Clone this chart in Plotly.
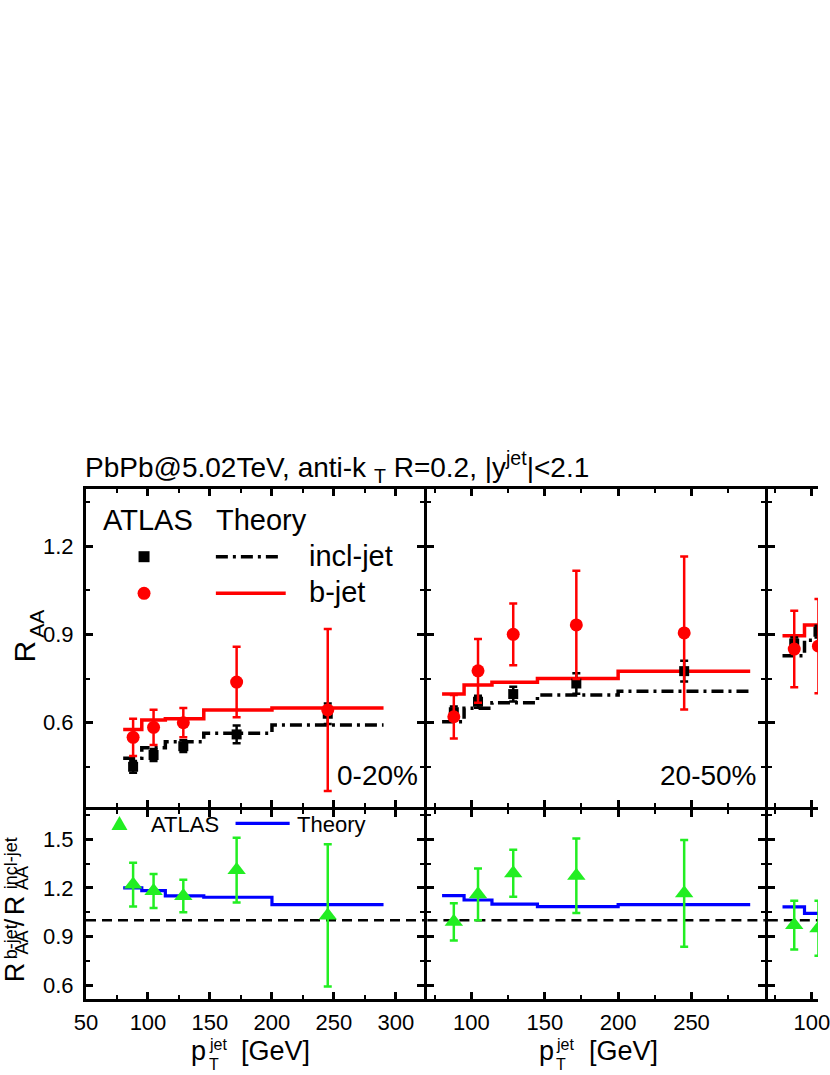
import plotly.graph_objects as go

FONT = "Liberation Sans, Arial, Helvetica, sans-serif"

# ---------------- data ----------------
bin_edges = [80, 95, 114, 145, 200, 290]
pt_atlas = [88, 104.5, 128.5, 171.5, 245]

# 0-20%
c1_incl_atlas = [0.45, 0.49, 0.52, 0.56, 0.63]
c1_incl_atlas_err = [0.02, 0.02, 0.02, 0.03, 0.035]
c1_b_atlas = [0.55, 0.584, 0.60, 0.738, 0.643]
c1_b_atlas_err = [0.063, 0.06, 0.05, 0.12, 0.275]
c1_incl_theory = [0.479, 0.515, 0.535, 0.564, 0.592]
c1_b_theory = [0.577, 0.609, 0.613, 0.643, 0.65]
c1_ratio_atlas = [1.22, 1.18, 1.15, 1.31, 1.03]
c1_ratio_atlas_err = [0.135, 0.105, 0.10, 0.20, 0.44]
c1_ratio_theory = [1.20, 1.183, 1.15, 1.142, 1.097]

# 20-50%
c2_incl_atlas = [0.635, 0.671, 0.697, 0.733, 0.775]
c2_incl_atlas_err = [0.02, 0.02, 0.025, 0.035, 0.035]
c2_b_atlas = [0.62, 0.776, 0.90, 0.932, 0.905]
c2_b_atlas_err = [0.074, 0.108, 0.105, 0.184, 0.26]
c2_incl_theory = [0.603, 0.649, 0.668, 0.694, 0.707]
c2_b_theory = [0.697, 0.728, 0.737, 0.75, 0.775]
c2_ratio_atlas = [0.99, 1.16, 1.29, 1.275, 1.166]
c2_ratio_atlas_err = [0.115, 0.16, 0.145, 0.23, 0.33]
c2_ratio_theory = [1.152, 1.125, 1.10, 1.084, 1.096]

# third centrality panel (only first bins visible)
c3_bin_edges = [80, 95, 114]
c3_pt_atlas = [88, 104.5]
c3_incl_atlas = [0.869, 0.909]
c3_incl_atlas_err = [0.02, 0.02]
c3_b_atlas = [0.85, 0.86]
c3_b_atlas_err = [0.13, 0.16]
c3_incl_theory = [0.827, 0.88]
c3_b_theory = [0.895, 0.932]
c3_ratio_atlas = [0.97, 0.95]
c3_ratio_atlas_err = [0.15, 0.17]
c3_ratio_theory = [1.083, 1.043]

centrality_labels = ["0-20%", "20-50%"]

# ---------------- layout geometry ----------------
FW, FH = 830, 1075
ML, MR, MT, MB = 86, 0, 489, 76
PW = FW - ML - MR
PH = FH - MT - MB


def px2x(px):
    return (px - ML) / PW


def py2y(py):
    return (FH - MB - py) / PH


xdom = [[0, px2x(430)], [px2x(433), px2x(776)], [px2x(779), 1.0]]
ydom_top = [py2y(806.5), 1.0]
ydom_low = [0.0, py2y(809.5)]
xranges = [[50, 323], [70, 300], [70, 104.2]]
yrange_top = [0.315, 1.394]
yrange_low = [0.5135, 1.684]

RED = "#FF0000"
GREEN = "#22EE22"
BLUE = "#0000FF"
DASHDOT = "12px,5px,3px,5px"

fig = go.Figure()


def step(edges, vals):
    return list(edges), list(vals) + [vals[-1]]


def add_top(xa, ya, edges, pts, incl, incl_err, bval, b_err, incl_th, b_th):
    sx, sy = step(edges, incl_th)
    fig.add_trace(go.Scatter(x=sx, y=sy, mode="lines", line_shape="hv",
                             line=dict(color="black", width=3.5, dash=DASHDOT),
                             xaxis=xa, yaxis=ya, hoverinfo="skip"))
    sx, sy = step(edges, b_th)
    fig.add_trace(go.Scatter(x=sx, y=sy, mode="lines", line_shape="hv",
                             line=dict(color=RED, width=3.5),
                             xaxis=xa, yaxis=ya, hoverinfo="skip"))
    fig.add_trace(go.Scatter(x=pts, y=incl, mode="markers",
                             marker=dict(symbol="square", size=10, color="black"),
                             error_y=dict(type="data", array=incl_err, color="black",
                                          thickness=2.5, width=4),
                             xaxis=xa, yaxis=ya))
    fig.add_trace(go.Scatter(x=pts, y=bval, mode="markers",
                             marker=dict(symbol="circle", size=13, color=RED),
                             error_y=dict(type="data", array=b_err, color=RED,
                                          thickness=2.5, width=4),
                             xaxis=xa, yaxis=ya))


def add_low(xa, ya, edges, pts, ratio, ratio_err, ratio_th):
    sx, sy = step(edges, ratio_th)
    fig.add_trace(go.Scatter(x=sx, y=sy, mode="lines", line_shape="hv",
                             line=dict(color=BLUE, width=3.2),
                             xaxis=xa, yaxis=ya, hoverinfo="skip"))
    fig.add_trace(go.Scatter(x=pts, y=ratio, mode="markers",
                             marker=dict(symbol="triangle-up", size=16, color=GREEN),
                             error_y=dict(type="data", array=ratio_err, color=GREEN,
                                          thickness=2.5, width=4),
                             xaxis=xa, yaxis=ya))


add_top("x", "y", bin_edges, pt_atlas, c1_incl_atlas, c1_incl_atlas_err,
        c1_b_atlas, c1_b_atlas_err, c1_incl_theory, c1_b_theory)
add_top("x2", "y2", bin_edges, pt_atlas, c2_incl_atlas, c2_incl_atlas_err,
        c2_b_atlas, c2_b_atlas_err, c2_incl_theory, c2_b_theory)
add_top("x3", "y3", c3_bin_edges, c3_pt_atlas, c3_incl_atlas, c3_incl_atlas_err,
        c3_b_atlas, c3_b_atlas_err, c3_incl_theory, c3_b_theory)
add_low("x4", "y4", bin_edges, pt_atlas, c1_ratio_atlas, c1_ratio_atlas_err, c1_ratio_theory)
add_low("x5", "y5", bin_edges, pt_atlas, c2_ratio_atlas, c2_ratio_atlas_err, c2_ratio_theory)
add_low("x6", "y6", c3_bin_edges, c3_pt_atlas, c3_ratio_atlas, c3_ratio_atlas_err, c3_ratio_theory)

# ---------------- axes ----------------
xticks = [[50, 100, 150, 200, 250, 300], [100, 150, 200, 250], [100]]
xminor = [[75, 125, 175, 225, 275], [75, 125, 175, 225, 275], [75]]
ytick_top = [0.6, 0.9, 1.2]
yminor_top = [0.45, 0.75, 1.05, 1.35]
ytick_low = [0.6, 0.9, 1.2, 1.5]
yminor_low = [0.75, 1.05, 1.35, 1.65]


def base_axis():
    return dict(showline=True, linewidth=3, linecolor="black", ticks="inside",
                ticklen=7, tickwidth=2.5, tickcolor="black", showgrid=False,
                zeroline=False, fixedrange=True, tickmode="array",
                tickfont=dict(size=22, family=FONT, color="black"))


layout_axes = {}
for i in range(3):
    for row in range(2):
        n = i + 1 + 3 * row
        xname = "xaxis" if n == 1 else f"xaxis{n}"
        yname = "yaxis" if n == 1 else f"yaxis{n}"
        xa = base_axis()
        xa.update(domain=xdom[i], range=xranges[i], anchor="y" if n == 1 else f"y{n}",
                  tickvals=xticks[i], ticktext=[str(v) for v in xticks[i]],
                  mirror="allticks", showticklabels=(row == 1),
                  ticklabelstandoff=2, ticklabeloverflow="allow",
                  minor=dict(tickmode="array", tickvals=xminor[i], ticks="inside",
                             ticklen=4, tickwidth=2, tickcolor="black"))
        ya = base_axis()
        if row == 0:
            tv, mv, yr, yd = ytick_top, yminor_top, yrange_top, ydom_top
        else:
            tv, mv, yr, yd = ytick_low, yminor_low, yrange_low, ydom_low
        ya.update(domain=yd, range=yr, anchor="x" if n == 1 else f"x{n}",
                  tickvals=tv, ticktext=[f"{v:.1f}" for v in tv],
                  mirror=("allticks" if i < 2 else False),
                  showticklabels=(i == 0), ticklabelstandoff=5,
                  minor=dict(tickmode="array", tickvals=mv, ticks="inside",
                             ticklen=4, tickwidth=2, tickcolor="black"))
        layout_axes[xname] = xa
        layout_axes[yname] = ya

fig.update_layout(**layout_axes)

# ---------------- shapes ----------------
shapes = []
for n in (4, 5, 6):
    shapes.append(dict(type="line", xref=f"x{n} domain", x0=0, x1=1, yref=f"y{n}",
                       y0=1.0, y1=1.0, layer="below",
                       line=dict(color="black", width=2.5, dash="10px,6px")))

# top legend samples
shapes.append(dict(type="rect", xref="paper", yref="paper", xsizemode="pixel",
                   ysizemode="pixel", xanchor=px2x(145), yanchor=py2y(556.7),
                   x0=-5.5, x1=5.5, y0=-5.5, y1=5.5,
                   fillcolor="black", line=dict(width=0)))
shapes.append(dict(type="line", xref="paper", yref="paper", x0=px2x(218), x1=px2x(284),
                   y0=py2y(556.7), y1=py2y(556.7),
                   line=dict(color="black", width=3.5, dash=DASHDOT)))
shapes.append(dict(type="circle", xref="paper", yref="paper", xsizemode="pixel",
                   ysizemode="pixel", xanchor=px2x(145), yanchor=py2y(593.3),
                   x0=-6.5, x1=6.5, y0=-6.5, y1=6.5,
                   fillcolor=RED, line=dict(width=0)))
shapes.append(dict(type="line", xref="paper", yref="paper", x0=px2x(218), x1=px2x(289),
                   y0=py2y(593.3), y1=py2y(593.3),
                   line=dict(color=RED, width=3.5)))
# lower legend samples
shapes.append(dict(type="path", xref="paper", yref="paper", xsizemode="pixel",
                   ysizemode="pixel", xanchor=px2x(120), yanchor=py2y(823.5),
                   path="M-8,-6.5 L8,-6.5 L0,7.5 Z",
                   fillcolor=GREEN, line=dict(width=0)))
shapes.append(dict(type="line", xref="paper", yref="paper", x0=px2x(238), x1=px2x(293),
                   y0=py2y(823.3), y1=py2y(823.3),
                   line=dict(color=BLUE, width=3.2)))
fig.update_layout(shapes=shapes)

# ---------------- text ----------------
ann = []


def text(t, px, py, size, xanchor="left", yanchor="middle", angle=0):
    ann.append(dict(text=t, x=px2x(px), y=py2y(py), xref="paper", yref="paper",
                    showarrow=False, xanchor=xanchor, yanchor=yanchor, textangle=angle,
                    font=dict(size=size, family=FONT, color="black"), borderpad=0))


text("PbPb@5.02TeV, anti-k <sub>T</sub> R=0.2, |y<sup>jet</sup>|<2.1", 84, 467, 28)
text("ATLAS", 102, 520, 29)
text("Theory", 217, 520, 29)
text("incl-jet", 312, 556, 29)
text("b-jet", 312, 592, 29)
text(centrality_labels[0], 424, 775.5, 28, xanchor="right")
text(centrality_labels[1], 769, 775.5, 28, xanchor="right")
text("ATLAS", 151, 824.3, 22)
text("Theory", 299, 824.3, 22)

# y titles
text("R", 22.5, 652, 30, xanchor="center", angle=-90)
text("AA", 35, 624, 21, xanchor="center", angle=-90)
text("R", 14, 972, 27, xanchor="center", angle=-90)
text("b-jet", 9.5, 941.5, 18, xanchor="center", angle=-90)
text("AA", 20.5, 943, 18, xanchor="center", angle=-90)
text("/", 14, 922, 27, xanchor="center", angle=-90)
text("R", 14, 905, 27, xanchor="center", angle=-90)
text("incl-jet", 9.5, 863.5, 18, xanchor="center", angle=-90)
text("AA", 20.5, 878.5, 18, xanchor="center", angle=-90)

# x titles
for pleft in (192, 545):
    text("p", pleft, 1051, 27)
    text("jet", pleft + 17.5, 1044, 16)
    text("T", pleft + 17.5, 1064, 16)
    text("[GeV]", pleft + 51, 1051, 27)

fig.update_layout(annotations=ann)

fig.update_layout(width=FW, height=FH, margin=dict(l=ML, r=MR, t=MT, b=MB),
                  paper_bgcolor="white", plot_bgcolor="white", showlegend=False,
                  font=dict(family=FONT, color="black"))

fig.write_html("out.html",
               config={"displayModeBar": False},
               post_script="document.body.style.margin='0px';"
                           "document.body.style.overflow='hidden';")
